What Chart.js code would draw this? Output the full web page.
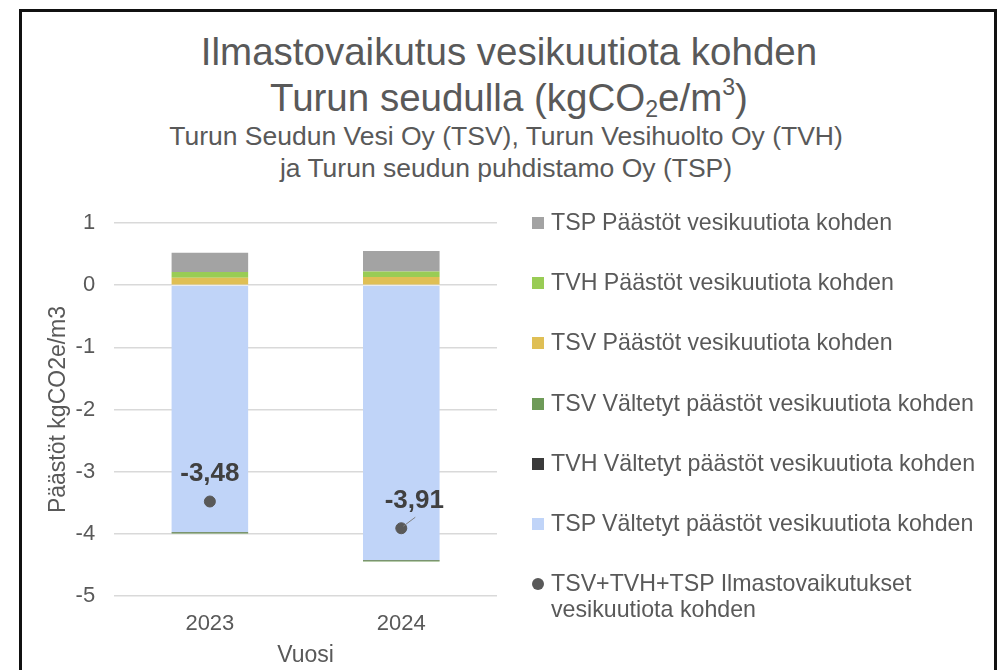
<!DOCTYPE html>
<html lang="fi">
<head>
  <meta charset="UTF-8" />
  <title>Ilmastovaikutus vesikuutiota kohden</title>
  <script src="https://cdn.jsdelivr.net/npm/chart.js"></script>
  <style>
    html, body { margin: 0; padding: 0; background: #fff; overflow: hidden; }
    body { width: 1000px; height: 670px; position: relative; font-family: "Liberation Sans", Arial, sans-serif; color: #595959; }
    .frame { position: absolute; left: 19px; top: 9px; width: 972px; height: 700px; border: 3px solid #111; }
    .title { position: absolute; left: 0; width: 1018px; top: 29px; text-align: center; font-size: 38.5px; line-height: 46px; }
    .subtitle { position: absolute; left: 0; width: 1012px; top: 120px; text-align: center; font-size: 26.5px; line-height: 32px; }
    .title sub { font-size: 60%; vertical-align: -0.25em; line-height: 0; }
    .title sup { font-size: 60%; vertical-align: 0.7em; line-height: 0; }
    #chartWrap { position: absolute; left: 0; top: 0; width: 1000px; height: 670px; }
    #legend { position: absolute; left: 532px; top: 209px; font-size: 23.2px; }
    #legend .item { position: relative; height: 60.2px; padding-left: 19px; line-height: 26px; }
    #legend .box { position: absolute; left: 0; top: 8px; width: 12px; height: 12px; }
    #legend .dot { position: absolute; left: 0; top: 8px; width: 12px; height: 12px; border-radius: 50%; }
  </style>
</head>
<body>
  <div class="frame"></div>
  <div class="title">Ilmastovaikutus vesikuutiota kohden<br>Turun seudulla (kgCO<sub>2</sub>e/m<sup>3</sup>)</div>
  <div class="subtitle">Turun Seudun Vesi Oy (TSV), Turun Vesihuolto Oy (TVH)<br>ja Turun seudun puhdistamo Oy (TSP)</div>
  <div id="chartWrap"><canvas id="chart" width="1000" height="670"></canvas></div>
  <div id="legend"></div>

  <script>
    const years = ['2023', '2024'];

    // päästöt (positiiviset)
    const tsvPaastot = [0.12, 0.13];
    const tvhPaastot = [0.09, 0.09];
    const tspPaastot = [0.31, 0.33];

    // vältetyt päästöt (negatiiviset)
    const tspValtetyt = [-3.97, -4.42];
    const tvhValtetyt = [-0.005, -0.005];
    const tsvValtetyt = [-0.02, -0.02];

    // yhteensä
    const totals = [-3.48, -3.91];

    const yTicks = [1, 0, -1, -2, -3, -4, -5];

    const textColor = '#595959';
    const font = "'Liberation Sans', Arial, sans-serif";

    const barSets = [
      { label: 'TSP Vältetyt päästöt vesikuutiota kohden', data: tspValtetyt, backgroundColor: '#c0d4f8' },
      { label: 'TVH Vältetyt päästöt vesikuutiota kohden', data: tvhValtetyt, backgroundColor: '#3a3a3a' },
      { label: 'TSV Vältetyt päästöt vesikuutiota kohden', data: tsvValtetyt, backgroundColor: '#6e9a58' },
      { label: 'TSV Päästöt vesikuutiota kohden', data: tsvPaastot, backgroundColor: '#dfbf55' },
      { label: 'TVH Päästöt vesikuutiota kohden', data: tvhPaastot, backgroundColor: '#99cc55' },
      { label: 'TSP Päästöt vesikuutiota kohden', data: tspPaastot, backgroundColor: '#a3a3a3' },
    ];

    const totalSet = {
      type: 'line',
      label: 'TSV+TVH+TSP Ilmastovaikutukset vesikuutiota kohden',
      data: totals,
      showLine: false,
      pointRadius: 5.5,
      pointHoverRadius: 5.5,
      pointBackgroundColor: '#595959',
      pointBorderColor: '#595959',
      backgroundColor: '#595959',
      borderColor: '#595959',
      order: -1,
    };

    // label offsets (px) for data labels, 2024 one is moved with a leader line
    const labelOffsets = [{ dx: 0, dy: -28, leader: false }, { dx: 13, dy: -27, leader: true }];

    const totalLabels = {
      id: 'totalLabels',
      afterDatasetsDraw(chart) {
        const meta = chart.getDatasetMeta(chart.data.datasets.length - 1);
        const ctx = chart.ctx;
        ctx.save();
        meta.data.forEach((pt, i) => {
          const off = labelOffsets[i];
          const tx = pt.x + off.dx, ty = pt.y + off.dy;
          if (off.leader) {
            ctx.strokeStyle = '#7f7f7f';
            ctx.lineWidth = 1;
            ctx.beginPath();
            ctx.moveTo(pt.x + 2, pt.y - 2);
            ctx.lineTo(pt.x + 14, pt.y - 11);
            ctx.stroke();
          }
          ctx.fillStyle = '#404040';
          ctx.font = "bold 26px " + font;
          ctx.textAlign = 'center';
          ctx.textBaseline = 'middle';
          ctx.fillText(totals[i].toFixed(2).replace('.', ','), tx, ty);
        });
        ctx.restore();
      }
    };

    const chart = new Chart(document.getElementById('chart'), {
      type: 'bar',
      data: {
        labels: years,
        datasets: [
          ...barSets.map(s => ({ ...s, stack: 's', barPercentage: 0.4, categoryPercentage: 1, borderWidth: 0 })),
          totalSet
        ]
      },
      options: {
        responsive: false,
        animation: false,
        layout: { padding: { left: 45, right: 503, top: 223, bottom: 1 } },
        plugins: {
          legend: { display: false },
          tooltip: { enabled: false },
        },
        scales: {
          x: {
            stacked: true,
            grid: { display: false },
            border: { display: false },
            ticks: { color: textColor, font: { family: font, size: 22 }, padding: 7 },
            title: { display: true, text: 'Vuosi', color: textColor, font: { family: font, size: 23 }, padding: { top: -3, bottom: 0 } }
          },
          y: {
            stacked: true,
            min: -5,
            max: 1,
            afterBuildTicks: axis => { axis.ticks = yTicks.map(v => ({ value: v })); },
            grid: { color: '#d9d9d9', lineWidth: 1.5, drawTicks: false },
            border: { display: false },
            ticks: { color: textColor, font: { family: font, size: 22 }, padding: 19 },
            title: { display: true, text: 'Päästöt kgCO2e/m3', color: textColor, font: { family: font, size: 23 }, padding: { top: 0, bottom: -16 } }
          }
        }
      },
      plugins: [totalLabels]
    });

    // legend in Excel order: bar series reversed, then the total marker
    const legendEl = document.getElementById('legend');
    const legendItems = [...barSets].reverse().map(s => ({ text: s.label, color: s.backgroundColor, dot: false }));
    legendItems.push({ text: 'TSV+TVH+TSP Ilmastovaikutukset<br>vesikuutiota kohden', color: totalSet.pointBackgroundColor, dot: true });
    legendItems.forEach(it => {
      const div = document.createElement('div');
      div.className = 'item';
      div.innerHTML = `<span class="${it.dot ? 'dot' : 'box'}" style="background:${it.color}"></span>${it.text}`;
      legendEl.appendChild(div);
    });
  </script>
</body>
</html>
